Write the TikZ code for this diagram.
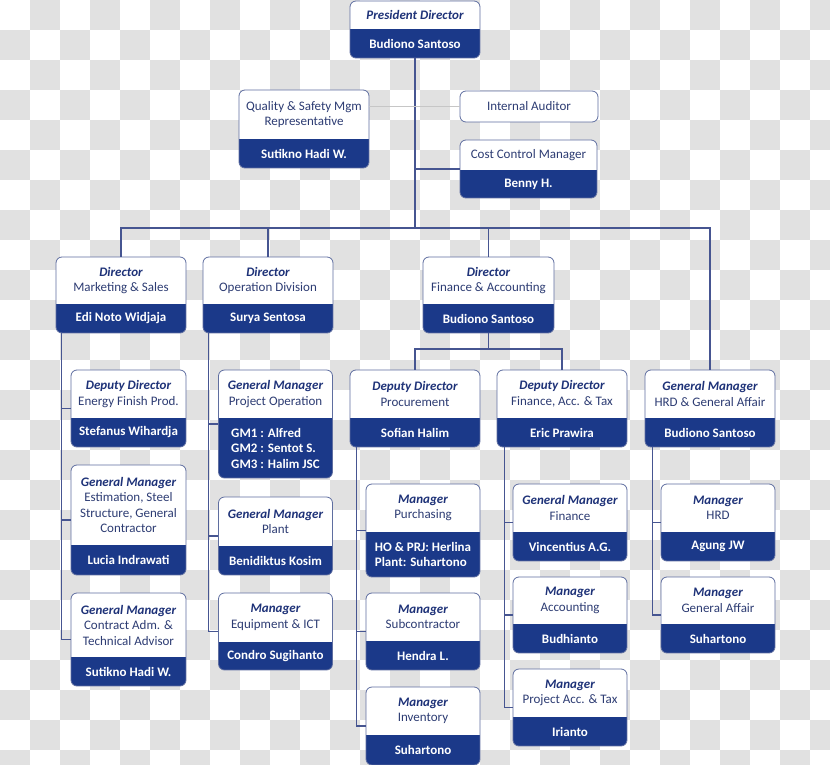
\documentclass[tikz,border=0pt]{standalone}
\usepackage{fontspec}
\setmainfont{Carlito}
\usetikzlibrary{calc}

\definecolor{navyc}{RGB}{27,57,137}
\definecolor{titlec}{RGB}{30,50,120}
\definecolor{descc}{RGB}{45,60,115}
\definecolor{boxline}{RGB}{95,110,160}
\definecolor{linkc}{RGB}{70,85,145}
\definecolor{tilec}{RGB}{225,225,225}

\newcommand{\ttl}[1]{{\bfseries\itshape\color{titlec}#1}}

\tikzset{
  unitbox/.style={draw=boxline, line width=0.8pt, fill=white, rounded corners=6pt, inner sep=0pt},
  navy part/.style={path picture={\fill[navyc, sharp corners] ([yshift=#1pt]path picture bounding box.south west) rectangle (path picture bounding box.south east);}},
  role/.style={inner sep=0pt, align=center, text=descc, font=\fontsize{13}{15.5}\selectfont},
  person/.style={inner sep=0pt, align=left, text=white, font=\fontsize{13}{15.5}\selectfont\bfseries},
  link/.style={draw=linkc, line width=1.1pt},
  faint/.style={draw=gray!45, line width=0.6pt},
}

% box: name, centre x, top y, width, white height, navy height, role, person
\newcommand{\orgunit}[8]{%
  \node[unitbox, minimum width=#4, minimum height={#5+#6}, navy part=#6] (#1) at (#2,{#3+(#5+#6)/2}) {};
  \node[role] (#1-role) at (#2,{#3+#5/2}) {#7};
  \node[person] (#1-person) at (#2,{#3+#5+#6/2}) {#8};
}

\begin{document}
\begin{tikzpicture}[x=1pt, y=-1pt]
  \useasboundingbox (0,0) rectangle (830,765);

  % checkered backdrop
  \begin{scope}
    \clip (0,0) rectangle (830,765);
    \fill[white] (0,0) rectangle (830,765);
    \foreach \c in {0,2,...,26}
      \foreach \r in {1,3,...,25} {
        \fill[tilec] (\c*30,\r*30) rectangle ++(30,30);
        \fill[tilec] (\c*30+30,\r*30-30) rectangle ++(30,30);
      }
  \end{scope}

  % top
  \orgunit{pres}{415}{1}{130}{28}{29}{\ttl{President Director}}{Budiono Santoso}
  \orgunit{qsm}{304}{90}{130}{49}{29}{Quality \& Safety Mgm\\Representative}{Sutikno Hadi W.}
  \node[unitbox, role, minimum width=138, minimum height=31] (audit) at (529,106.5) {Internal Auditor};
  \orgunit{cost}{528.5}{140}{137}{30}{28}{Cost Control Manager}{Benny H.}

  % directors
  \orgunit{mkt}{121}{257}{130}{47}{29}{\ttl{Director}\\Marketing \& Sales}{Edi Noto Widjaja}
  \orgunit{ops}{268}{257}{130}{47}{29}{\ttl{Director}\\Operation Division}{Surya Sentosa}
  \orgunit{fin}{488.5}{257}{131}{47}{29}{\ttl{Director}\\Finance \& Accounting}{Budiono Santoso}

  % second row
  \orgunit{dep}{128.5}{370}{115}{48}{29}{\ttl{Deputy Director}\\Energy Finish Prod.}{Stefanus Wihardja}
  \orgunit{gmpo}{275.5}{370}{114}{48}{60}{\ttl{General Manager}\\Project Operation}{GM1 : Alfred\\GM2 : Sentot S.\\GM3 : Halim JSC}
  \orgunit{proc}{415}{370}{130}{48}{29}{\ttl{Deputy Director}\\Procurement}{Sofian Halim}
  \orgunit{fat}{562}{370}{130}{48}{29}{\ttl{Deputy Director}\\Finance, Acc. \& Tax}{Eric Prawira}
  \orgunit{hrgm}{710}{370}{130}{48}{29}{\ttl{General Manager}\\HRD \& General Affair}{Budiono Santoso}

  % marketing column
  \orgunit{gme}{128.5}{465}{115}{80}{30}{\ttl{General Manager}\\Estimation, Steel\\Structure, General\\Contractor}{Lucia Indrawati}
  \orgunit{gmc}{128.5}{593}{115}{64}{29}{\ttl{General Manager}\\Contract Adm. \&\\Technical Advisor}{Sutikno Hadi W.}

  % operation column
  \orgunit{gmpl}{275.5}{497}{114}{49}{29}{\ttl{General Manager}\\Plant}{Benidiktus Kosim}
  \orgunit{eqp}{275.5}{593}{114}{49}{28}{\ttl{Manager}\\Equipment \& ICT}{Condro Sugihanto}

  % procurement column
  \orgunit{purch}{423}{484}{114}{48}{45}{\ttl{Manager}\\Purchasing}{HO \& PRJ: Herlina\\Plant: Suhartono}
  \orgunit{subc}{423}{593}{114}{48}{29}{\ttl{Manager}\\Subcontractor}{Hendra L.}
  \orgunit{inv}{423}{687}{114}{48}{30}{\ttl{Manager}\\Inventory}{Suhartono}

  % finance column
  \orgunit{gmfin}{570}{484}{114}{48}{29}{\ttl{General Manager}\\Finance}{Vincentius A.G.}
  \orgunit{acc}{570}{577}{114}{47}{29}{\ttl{Manager}\\Accounting}{Budhianto}
  \orgunit{pat}{570}{669}{114}{48}{29}{\ttl{Manager}\\Project Acc. \& Tax}{Irianto}

  % hrd column
  \orgunit{hrd}{718}{484}{114}{48}{29}{\ttl{Manager}\\HRD}{Agung JW}
  \orgunit{ga}{718}{577}{114}{47}{29}{\ttl{Manager}\\General Affair}{Suhartono}

  % connectors
  \coordinate (bus) at (415,228);
  \coordinate (finbus) at (488.5,349);
  \draw[link] (pres.south) -- (bus);
  \draw[link] (cost.west) -- (cost.west -| bus);
  \draw[faint] (audit.west) -- (audit.west -| qsm.east);
  \draw[link] (mkt.north) |- (hrgm.north |- bus) -- (hrgm.north);
  \draw[link] (ops.north) -- (ops.north |- bus);
  \draw[link] (fin.north) -- (fin.north |- bus);
  \draw[link] (fin.south) -- (finbus);
  \draw[link] (proc.north) |- (fat.north |- finbus) -- (fat.north);

  \coordinate (mkt-spine) at ([xshift=6pt]mkt.south west);
  \draw[link] (mkt-spine) |- (gmc.west);
  \draw[link] (dep.west) -- (dep.west -| mkt-spine);
  \draw[link] (gme.west) -- (gme.west -| mkt-spine);

  \coordinate (ops-spine) at ([xshift=6pt]ops.south west);
  \draw[link] (ops-spine) |- (eqp.west);
  \draw[link] (gmpo.west) -- (gmpo.west -| ops-spine);
  \draw[link] (gmpl.west) -- (gmpl.west -| ops-spine);

  \coordinate (proc-spine) at ([xshift=7pt]proc.south west);
  \draw[link] (proc-spine) |- (inv.west);
  \draw[link] (purch.west) -- (purch.west -| proc-spine);
  \draw[link] (subc.west) -- (subc.west -| proc-spine);

  \coordinate (fat-spine) at ([xshift=8pt]fat.south west);
  \draw[link] (fat-spine) |- (pat.west);
  \draw[link] (gmfin.west) -- (gmfin.west -| fat-spine);
  \draw[link] (acc.west) -- (acc.west -| fat-spine);

  \coordinate (hrgm-spine) at ([xshift=8pt]hrgm.south west);
  \draw[link] (hrgm-spine) |- (ga.west);
  \draw[link] (hrd.west) -- (hrd.west -| hrgm-spine);
\end{tikzpicture}
\end{document}
